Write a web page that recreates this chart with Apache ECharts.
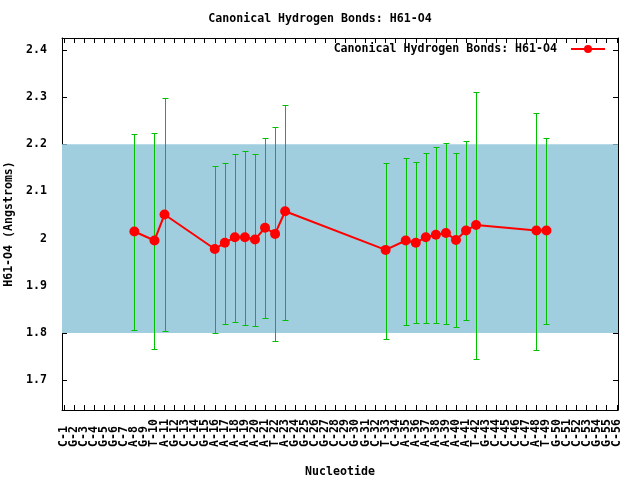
<!DOCTYPE html>
<html>
<head>
<meta charset="utf-8">
<title>Canonical Hydrogen Bonds: H61-O4</title>
<script src="https://cdn.jsdelivr.net/npm/echarts@6/dist/echarts.min.js"></script>
<style>
  html, body { margin: 0; padding: 0; background: #fff; }
  #chart { width: 640px; height: 480px; }
</style>
</head>
<body>
<div id="chart"></div>
<script>
// nucleotide names along the x axis (position = index + 1)
const nucleotides = [
  'C-1', 'G-2', 'C-3', 'C-4', 'G-5', 'G-6', 'C-7', 'A-8', 'G-9', 'T-10',
  'A-11', 'G-12', 'C-13', 'C-14', 'G-15', 'A-16', 'A-17', 'A-18', 'A-19', 'A-20',
  'A-21', 'T-22', 'A-23', 'G-24', 'G-25', 'C-26', 'G-27', 'C-28', 'C-29', 'G-30',
  'G-31', 'C-32', 'T-33', 'C-34', 'A-35', 'A-36', 'A-37', 'A-38', 'A-39', 'A-40',
  'A-41', 'T-42', 'G-43', 'C-44', 'C-45', 'C-46', 'C-47', 'A-48', 'T-49', 'G-50',
  'C-51', 'C-52', 'C-53', 'G-54', 'G-55', 'C-56'
]

// nucleotides that have the bond, mean distance and error bar ends
const bonded = ['A-8', 'T-10', 'A-11', 'A-16', 'A-17', 'A-18', 'A-19', 'A-20', 'A-21', 'T-22', 'A-23',
  'T-33', 'A-35', 'A-36', 'A-37', 'A-38', 'A-39', 'A-40', 'A-41', 'T-42', 'A-48', 'T-49']
const meanDist = [2.015, 1.996, 2.051, 1.978, 1.991, 2.003, 2.003, 1.998, 2.023, 2.010, 2.058,
  1.976, 1.996, 1.991, 2.003, 2.008, 2.012, 1.997, 2.017, 2.029, 2.017, 2.017]
const errLow = [1.806, 1.765, 1.804, 1.799, 1.818, 1.823, 1.816, 1.814, 1.831, 1.782, 1.827,
  1.788, 1.816, 1.820, 1.822, 1.820, 1.818, 1.812, 1.827, 1.745, 1.764, 1.818]
const errHigh = [2.221, 2.223, 2.298, 2.155, 2.160, 2.179, 2.185, 2.179, 2.213, 2.236, 2.283,
  2.160, 2.172, 2.162, 2.181, 2.194, 2.202, 2.181, 2.206, 2.312, 2.267, 2.213]

// reference band
const bandRange = [1.8, 2.2]

const yTicks = [1.7, 1.8, 1.9, 2.0, 2.1, 2.2, 2.3, 2.4]
const xTicks = nucleotides.map((n, i) => i + 1)

// axis ranges as drawn by the original plot
const xMin = 0.8, xMax = 56.12
const yMin = 1.6364, yMax = 2.4255

const seriesName = 'Canonical Hydrogen Bonds: H61-O4'
const font = { fontFamily: 'DejaVu Sans Mono', fontWeight: 'bold', fontSize: 11.6, color: '#000' }

const xPos = bonded.map(n => nucleotides.indexOf(n) + 1)
const lineData = xPos.map((x, i) => [x, meanDist[i]])
const errData = xPos.map((x, i) => [x, errLow[i], errHigh[i]])

const chart = echarts.init(document.getElementById('chart'))

function renderErrorBar(params, api) {
  const x = api.value(0)
  const lo = api.coord([x, api.value(1)])
  const hi = api.coord([x, api.value(2)])
  const cx = Math.round(lo[0]) + 0.5
  const yl = Math.round(lo[1]) + 0.5
  const yh = Math.round(hi[1]) + 0.5
  const w = 3
  const style = { stroke: '#00c000', lineWidth: 1 }
  return {
    type: 'group',
    children: [
      { type: 'line', shape: { x1: cx, y1: yh, x2: cx, y2: yl }, style },
      { type: 'line', shape: { x1: cx - w, y1: yh, x2: cx + w, y2: yh }, style },
      { type: 'line', shape: { x1: cx - w, y1: yl, x2: cx + w, y2: yl }, style }
    ]
  }
}

function xLabel(v) {
  const k = Math.round(v)
  if (Math.abs(v - k) > 1e-6) return ''
  return nucleotides[k - 1] || ''
}

const xBase = {
  type: 'value',
  min: xMin,
  max: xMax,
  splitLine: { show: false },
  axisLine: { show: true, lineStyle: { color: '#000', width: 1 } },
  axisTick: { show: true, inside: true, length: 5, customValues: xTicks, lineStyle: { color: '#000' } }
}
const yBase = {
  type: 'value',
  min: yMin,
  max: yMax,
  splitLine: { show: false },
  axisLine: { show: true, lineStyle: { color: '#000', width: 1 } },
  axisTick: { show: true, inside: true, length: 5, customValues: yTicks, lineStyle: { color: '#000' } }
}

const option = {
  animation: false,
  backgroundColor: '#fff',
  title: {
    text: seriesName,
    left: 'center',
    top: 8,
    textStyle: font
  },
  legend: {
    right: 29,
    top: 38,
    align: 'right',
    itemWidth: 34,
    itemHeight: 10,
    textStyle: Object.assign({ padding: [0, 9, 0, 0] }, font),
    data: [seriesName]
  },
  grid: { left: 62, right: 22, top: 38, bottom: 70, outerBoundsMode: 'none' },
  xAxis: [
    Object.assign({}, xBase, {
      position: 'bottom',
      name: 'Nucleotide',
      nameLocation: 'middle',
      nameGap: 56,
      nameTextStyle: font,
      axisLabel: Object.assign({
        rotate: 90,
        align: 'left',
        verticalAlign: 'middle',
        margin: 37,
        showMinLabel: false,
        showMaxLabel: false,
        hideOverlap: false,
        // empty labels at both ends so that every nucleotide label is kept
        customValues: [xMin].concat(xTicks, [xMax]),
        formatter: xLabel
      }, font)
    }),
    Object.assign({}, xBase, { position: 'top', axisLabel: { show: false } })
  ],
  yAxis: [
    Object.assign({}, yBase, {
      position: 'left',
      name: 'H61-O4 (Angstroms)',
      nameLocation: 'middle',
      nameGap: 37,
      nameTextStyle: font,
      axisLabel: Object.assign({
        margin: 15,
        customValues: yTicks,
        formatter: v => String(+(+v).toFixed(1))
      }, font)
    }),
    Object.assign({}, yBase, { position: 'right', axisLabel: { show: false } })
  ],
  series: [
    {
      name: 'band',
      type: 'line',
      data: [],
      z: 0,
      silent: true,
      markArea: {
        silent: true,
        itemStyle: { color: '#a0cede', opacity: 1 },
        data: [[{ yAxis: bandRange[0] }, { yAxis: bandRange[1] }]]
      }
    },
    {
      name: 'errors',
      type: 'custom',
      z: 2,
      renderItem: renderErrorBar,
      encode: { x: 0, y: [1, 2] },
      data: errData
    },
    {
      name: seriesName,
      type: 'line',
      z: 3,
      data: lineData,
      symbol: 'circle',
      symbolSize: 10,
      showSymbol: true,
      lineStyle: { color: '#ff0000', width: 2 },
      itemStyle: { color: '#ff0000' }
    }
  ]
}

chart.setOption(option)
</script>
</body>
</html>
